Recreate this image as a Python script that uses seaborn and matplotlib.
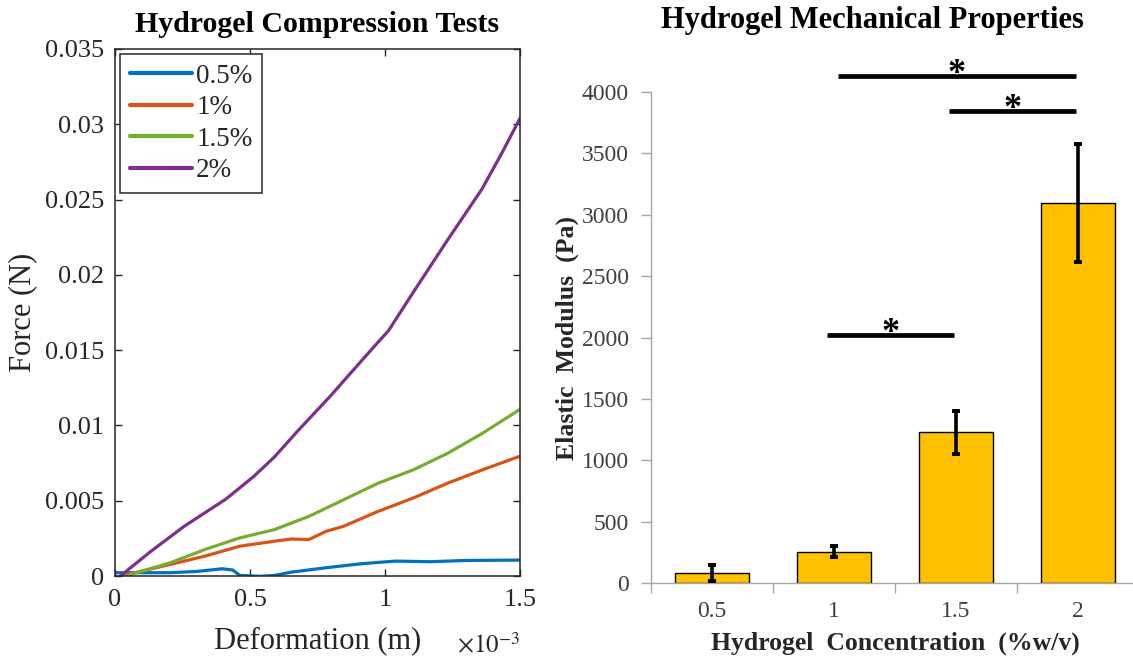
import matplotlib
matplotlib.use("Agg")
import matplotlib.pyplot as plt
import numpy as np
import pandas as pd
import seaborn as sns
from matplotlib.ticker import FormatStrFormatter

# ---------------- Left panel data: compression curves ----------------
# deformation in units of 1e-3 m, force in N
defo_05 = [0.0, 0.205, 0.30, 0.397, 0.436, 0.462, 0.538, 0.59, 0.654, 0.782, 0.910, 1.038, 1.167, 1.295, 1.5]
force_05 = [0.00022, 0.00022, 0.00030, 0.00048, 0.00040, 0.00004, -0.00002, 0.00004, 0.00026,
            0.00055, 0.00081, 0.00099, 0.00095, 0.00103, 0.00106]

defo_1 = [0.02, 0.205, 0.333, 0.462, 0.590, 0.654, 0.718, 0.782, 0.846, 0.974, 1.103, 1.231, 1.359, 1.5]
force_1 = [0.0, 0.00077, 0.00132, 0.00198, 0.00231, 0.00246, 0.00242, 0.00297, 0.00330,
           0.00429, 0.00517, 0.00616, 0.00704, 0.00796]

defo_15 = [0.04, 0.205, 0.333, 0.462, 0.590, 0.718, 0.846, 0.974, 1.103, 1.231, 1.359, 1.5]
force_15 = [0.0, 0.00088, 0.00176, 0.00253, 0.00308, 0.00396, 0.00506, 0.00616, 0.00704,
            0.00814, 0.00946, 0.01107]

defo_2 = [0.02, 0.13, 0.256, 0.41, 0.513, 0.59, 0.68, 0.795, 0.923, 1.013, 1.103, 1.231, 1.359, 1.43, 1.5]
force_2 = [0.0, 0.0016, 0.0033, 0.0051, 0.0066, 0.0079, 0.0097, 0.0119, 0.0145, 0.0163,
           0.0188, 0.0223, 0.0257, 0.0280, 0.0304]

series_names = ["0.5%", "1%", "1.5%", "2%"]
series_colors = ["#0072BD", "#D95319", "#77AC30", "#7E2F8E"]
force_ticks = [0, 0.005, 0.01, 0.015, 0.02, 0.025, 0.03, 0.035]
defo_ticks = [0, 0.5, 1, 1.5]

# ---------------- Right panel data: elastic modulus ----------------
conc_labels = ["0.5", "1", "1.5", "2"]
modulus = [80, 255, 1228, 3095]
modulus_err = [67, 45, 175, 480]
modulus_ticks = [0, 500, 1000, 1500, 2000, 2500, 3000, 3500, 4000]
# significance brackets (category coordinates, height in Pa)
sig_x_start = [0.94, 1.03, 1.94]
sig_x_end = [1.98, 2.98, 2.98]
sig_height = [2020, 4130, 3845]

# ---------------- style ----------------
sns.set_style("ticks")
plt.rcParams["font.family"] = ["Liberation Serif", "DejaVu Serif"]
plt.rcParams["mathtext.fontset"] = "stix"

fig = plt.figure(figsize=(11.33, 6.63), dpi=100)
ax1 = fig.add_axes([0.1015, 0.1312, 0.3575, 0.7949])
ax2 = fig.add_axes([0.5746, 0.1207, 0.4307, 0.7405])

# ---------------- left panel ----------------
frames = []
for name, xs, ys in zip(series_names, [defo_05, defo_1, defo_15, defo_2],
                        [force_05, force_1, force_15, force_2]):
    frames.append(pd.DataFrame({"Deformation": xs, "Force": ys, "Concentration": name}))
curves = pd.concat(frames, ignore_index=True)

sns.lineplot(data=curves, x="Deformation", y="Force", hue="Concentration",
             hue_order=series_names, palette=series_colors, estimator=None,
             sort=False, linewidth=2.3, ax=ax1, legend=False)

dark = "#262626"
ax1.set_xlim(0, 1.5)
ax1.set_ylim(0, 0.035)
ax1.set_xticks(defo_ticks)
ax1.set_yticks(force_ticks)
ax1.xaxis.set_major_formatter(FormatStrFormatter("%g"))
ax1.yaxis.set_major_formatter(FormatStrFormatter("%g"))
ax1.tick_params(axis="both", direction="in", length=5, width=1, color=dark,
                labelsize=19, labelcolor=dark, top=True, right=True)
ax1.tick_params(axis="y", pad=8)
ax1.tick_params(axis="x", pad=9)
for s in ax1.spines.values():
    s.set_visible(True)
    s.set_color(dark)
    s.set_linewidth(1.1)

ax1.set_xlabel("Deformation (m)", fontsize=22, color=dark)
ax1.set_ylabel("Force (N)", fontsize=22, color=dark)
ax1.xaxis.set_label_coords(0.5, -0.095)
ax1.yaxis.set_label_coords(-0.193, 0.5)
ax1.text(1.0, -0.133, r"$\times10^{-3}$", transform=ax1.transAxes, ha="right",
         va="center", fontsize=18, color=dark)

handles = [plt.Line2D([], [], color=c, lw=3) for c in series_colors]
leg = ax1.legend(handles, series_names, loc="upper left", fontsize=19.5,
                 frameon=True, fancybox=False, edgecolor=dark, framealpha=1,
                 handlelength=2.3, handletextpad=0.15, labelspacing=0.24,
                 borderpad=0.35, borderaxespad=0.2)
leg.get_frame().set_linewidth(1.1)
for t in leg.get_texts():
    t.set_color(dark)

fig.text(0.2802, 0.9517, "Hydrogel Compression Tests", ha="center", va="baseline",
         fontsize=21.5, fontweight="bold", color="black")

# ---------------- right panel ----------------
bars = pd.DataFrame({"Concentration": conc_labels, "Modulus": modulus})
sns.barplot(data=bars, x="Concentration", y="Modulus", color="#FFC000", saturation=1,
            edgecolor="black", linewidth=1.0, width=0.61, errorbar=None, ax=ax2)
ax2.errorbar(np.arange(len(conc_labels)), modulus, yerr=modulus_err, fmt="none",
             ecolor="black", elinewidth=2.6, capsize=3.2, capthick=2.8, zorder=5)

grey = "#A6A6A6"
ax2.set_xlim(-0.5, 3.5)
ax2.set_ylim(0, 4000)
ax2.set_yticks(modulus_ticks)
ax2.set_xticks([-0.5, 0.5, 1.5, 2.5, 3.5])
ax2.set_xticklabels([])
ax2.set_xticks(np.arange(len(conc_labels)), minor=True)
ax2.set_xticklabels(conc_labels, minor=True)
ax2.tick_params(axis="both", which="major", direction="out", length=7, width=1, color=grey,
                labelsize=17, labelcolor="#404040")
ax2.tick_params(axis="y", pad=9)
ax2.tick_params(axis="x", which="minor", length=0, pad=13, labelsize=17, labelcolor="#404040")
for side in ["top", "right"]:
    ax2.spines[side].set_visible(False)
for side in ["left", "bottom"]:
    ax2.spines[side].set_color(grey)
    ax2.spines[side].set_linewidth(1.0)

ax2.set_xlabel("Hydrogel  Concentration  (%w/v)", fontsize=18.5, fontweight="bold")
ax2.set_ylabel("Elastic  Modulus  (Pa)", fontsize=18.5, fontweight="bold")
ax2.xaxis.set_label_coords(0.5, -0.1)
ax2.yaxis.set_label_coords(-0.148, 0.5)

for x1, x2, h in zip(sig_x_start, sig_x_end, sig_height):
    ax2.plot([x1, x2], [h, h], color="black", lw=3.4, solid_capstyle="butt", clip_on=False)
    ax2.text((x1 + x2) / 2, h - 120, "*", ha="center", va="bottom", fontsize=26,
             fontweight="bold", color="black", clip_on=False)

fig.text(0.7696, 0.9578, "Hydrogel Mechanical Properties", ha="center", va="baseline",
         fontsize=22, fontweight="bold", color="black")

fig.savefig("out.png", dpi=100)
